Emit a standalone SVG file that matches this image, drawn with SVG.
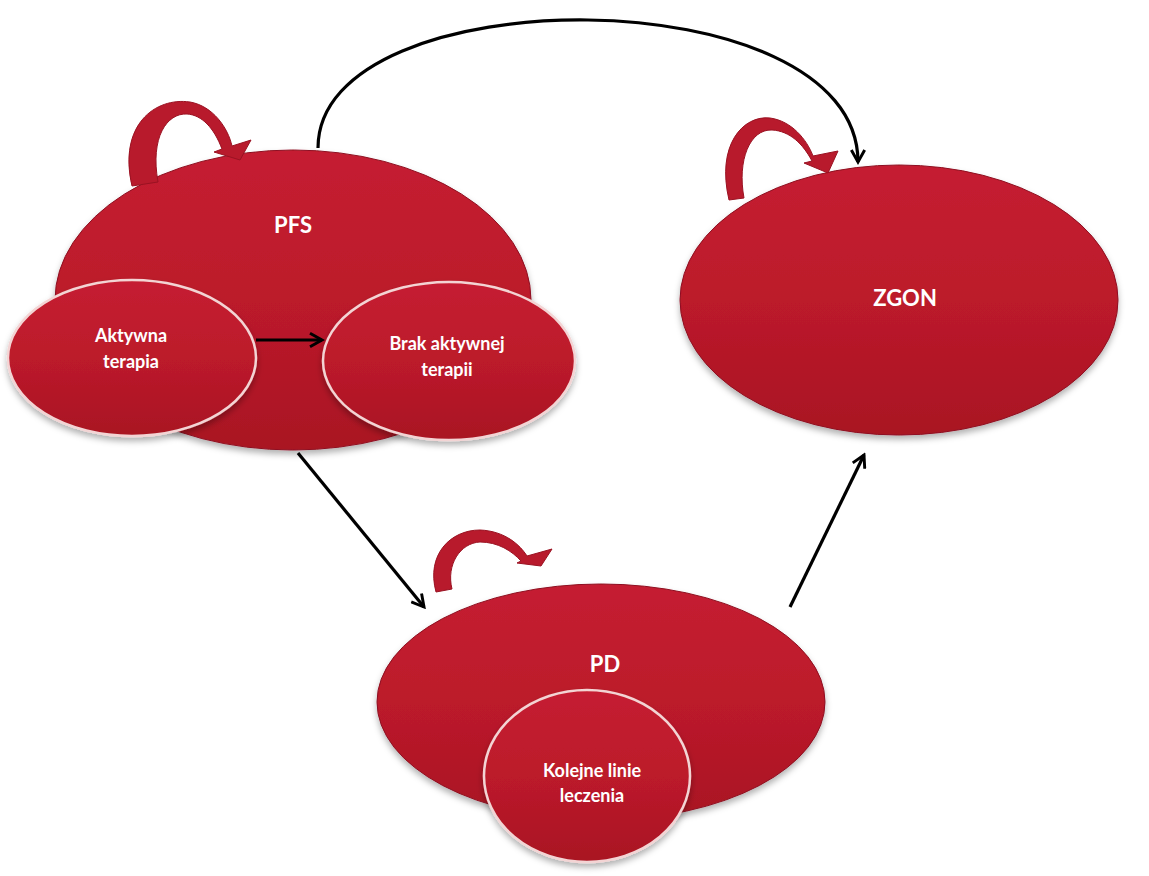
<svg xmlns="http://www.w3.org/2000/svg" width="1149" height="876" viewBox="0 0 1149 876">
<style>
.big{fill:url(#g1);stroke:#8e1020;stroke-width:1;filter:url(#sh)}
.small{fill:url(#g1);stroke:#f3d4d4;stroke-width:2.5;filter:url(#sh)}
.loop{fill:#b81a2c;stroke:#9a1222;stroke-width:1}
.con{fill:none;stroke:#000;stroke-width:3.2;marker-end:url(#ah)}
.t{fill:#fff;font-family:Lato,"Open Sans","Liberation Sans",sans-serif;font-weight:bold;text-anchor:middle}
.tb{font-size:22px}
.ts{font-size:18px}
</style>
<defs>
<linearGradient id="g1" x1="0" y1="0" x2="0" y2="1">
<stop offset="0" stop-color="#c51f31"/>
<stop offset="0.5" stop-color="#bc1a2b"/>
<stop offset="1" stop-color="#a91523"/>
</linearGradient>
<filter id="sh" x="-10%" y="-10%" width="120%" height="130%">
<feDropShadow dx="0" dy="4" stdDeviation="3" flood-color="#000" flood-opacity="0.3"/>
</filter>
<marker id="ah" viewBox="0 0 12 12" refX="10" refY="6" markerWidth="5" markerHeight="5" orient="auto" markerUnits="strokeWidth">
<path d="M1,1 L10,6 L1,11" fill="none" stroke="#000" stroke-width="2.2"/>
</marker>
</defs>
<g id="connectors">
<path class="con" d="M318,148 C318,-25 858,-25 858,162"/>
<path class="con" d="M298,453 L424,607"/>
<path class="con" d="M790,607 L864,455"/>
</g>
<g id="node-pfs">
<ellipse class="big" cx="293" cy="300" rx="238" ry="150"/>
<path class="loop" d="M132,186 C118,125 155,97 190,102 C213,106 228,128 232,146 L251,140 L240,160 L214,152 L222,149 C214,128 202,115 187,114 C167,113 150,137 158,182 Z"/>
<text class="t tb" x="293" y="233">PFS</text>
</g>
<g id="node-aktywna">
<ellipse class="small" cx="132" cy="358" rx="124" ry="78"/>
<text class="t ts" x="131" y="342">Aktywna</text>
<text class="t ts" x="131" y="368">terapia</text>
</g>
<g id="node-brak">
<ellipse class="small" cx="449" cy="361" rx="126" ry="79"/>
<text class="t ts" x="447" y="350">Brak aktywnej</text>
<text class="t ts" x="447" y="376">terapii</text>
</g>
<g id="node-zgon">
<ellipse class="big" cx="899" cy="300" rx="219" ry="135"/>
<path class="loop" d="M729,200 C716,145 743,115 770,118 C792,121 807,140 813,156 L838,151 L828,173 L804,163 L812,161 C803,144 790,131 772,130 C750,129 737,160 744,198 Z"/>
<text class="t tb" x="905" y="306">ZGON</text>
</g>
<g id="node-pd">
<ellipse class="big" cx="601" cy="702" rx="224" ry="118"/>
<path class="loop" d="M436,592 C426,555 450,530 480,530 C505,531 520,545 527,556 L552,549 L541,566 L517,563 L521,561 C512,551 498,542 480,542 C460,543 446,565 452,589 Z"/>
<text class="t tb" x="605" y="672">PD</text>
</g>
<g id="node-kolejne">
<ellipse class="small" cx="587" cy="776" rx="103" ry="86"/>
<text class="t ts" x="592" y="777">Kolejne linie</text>
<text class="t ts" x="592" y="802">leczenia</text>
</g>
<g id="inner-connector">
<path class="con" d="M256,340 L322,340"/>
</g>
</svg>
